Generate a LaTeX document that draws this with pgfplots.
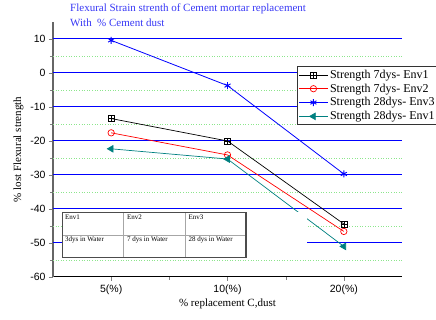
\documentclass[border=0pt]{standalone}
\usepackage{pgfplots}
\pgfplotsset{compat=1.18}
\usepackage{fontspec}
\setmainfont{Liberation Serif}
\newfontfamily\arial{Liberation Sans}
\definecolor{tealc}{RGB}{0,128,128}
\definecolor{titleblue}{RGB}{55,55,245}
\definecolor{gridgreen}{RGB}{140,230,140}
\definecolor{gridblue}{RGB}{0,0,255}
\pgfdeclareplotmark{boxplus}{%
  \pgfpathrectangle{\pgfpoint{-\pgfplotmarksize}{-\pgfplotmarksize}}{\pgfpoint{2\pgfplotmarksize}{2\pgfplotmarksize}}%
  \pgfpathmoveto{\pgfpoint{-\pgfplotmarksize}{0pt}}\pgfpathlineto{\pgfpoint{\pgfplotmarksize}{0pt}}%
  \pgfpathmoveto{\pgfpoint{0pt}{-\pgfplotmarksize}}\pgfpathlineto{\pgfpoint{0pt}{\pgfplotmarksize}}%
  \pgfusepathqstroke}
\begin{document}
\begin{tikzpicture}
\begin{axis}[
  scale only axis, width=349pt, height=255pt,
  xmin=0.5, xmax=3.5, ymin=-60, ymax=15,
  xtick={1,2,3}, xticklabels={5(\%),10(\%),20(\%)},
  minor xtick={1.5,2.5},
  ytick={-60,-50,...,10},
  minor ytick={-55,-45,...,5},
  axis x line*=bottom, axis y line*=left,
  axis line style={-},
  x axis line style={black, line width=1pt},
  y axis line style={black!60, line width=1.6pt},
  tick align=outside,
  major tick length=4pt, minor tick length=3pt,
  /pgf/number format/assume math mode=true,
  ticklabel style={font=\arial\fontsize{10.5}{12}\selectfont},
  xlabel={\% replacement C,dust},
  ylabel={\% lost Flexural strength},
  label style={font=\fontsize{11}{13}\selectfont},
  xlabel style={yshift=2pt},
  legend style={at={(0.699,0.827)}, anchor=north west, draw=black!80, line width=0.7pt,
    font=\fontsize{12}{14}\selectfont, row sep=0pt, inner sep=1.5pt, cells={anchor=west}},
  legend image code/.code={\draw[mark repeat=2,mark phase=2] plot coordinates {(0cm,0cm) (0.5cm,0cm) (1cm,0cm)};},
]
\pgfplotsinvokeforeach{-55,-45,-35,-25,-15,-5,5}{
  \draw[color=gridgreen, dotted, line width=0.6pt] (axis cs:0.5,#1) -- (axis cs:3.5,#1);
}
\pgfplotsinvokeforeach{-50,-40,-30,-20,-10,0,10}{
  \draw[color=gridblue, line width=1pt] (axis cs:0.5,#1) -- (axis cs:3.5,#1);
}
\addplot[black, line width=0.7pt, mark=boxplus, mark size=3pt, mark options={line width=0.6pt}] coordinates {(1,-13.4) (2,-20.0) (3,-44.4)};
\addlegendentry{Strength 7dys- Env1}
\addplot[red, line width=0.7pt, mark=o, mark size=3.2pt] coordinates {(1,-17.6) (2,-24.1) (3,-46.6)};
\addlegendentry{Strength 7dys- Env2}
\addplot[gridblue, line width=0.8pt, mark=asterisk, mark size=3.5pt, mark options={line width=0.9pt}] coordinates {(1,9.6) (2,-3.7) (3,-29.7)};
\addlegendentry{Strength 28dys- Env3}
\addplot[tealc, line width=0.7pt, mark=triangle*, mark size=3.8pt, mark options={rotate=90}] coordinates {(1,-22.3) (2,-25.3) (3,-51.0)};
\addlegendentry{Strength 28dys- Env1}
\end{axis}
\begin{scope}[x=1pt,y=1pt]
% white panel and table
\fill[white] (9.3,19.5) rectangle (254,64.5);
\draw[black!35, line width=0.7pt] (9.3,42) -- (193,42);
\draw[black!35, line width=0.7pt] (70.5,19.5) -- (70.5,64.5);
\draw[black!35, line width=0.7pt] (132,19.5) -- (132,64.5);
\draw[black!70, line width=1.1pt] (9.3,19.5) rectangle (193,64.5);
\begin{scope}[every node/.style={anchor=west, inner sep=0pt, font=\fontsize{7}{8}\selectfont}]
\node at (12,59.3) {Env1};
\node at (74,59.3) {Env2};
\node at (135.5,59.3) {Env3};
\node at (12,37) {3dys in Water};
\node at (74,37) {7 dys in Water};
\node at (135.5,37) {28 dys in Water};
\end{scope}
\node[anchor=north west, align=left, text=titleblue, inner sep=0pt,
  font=\fontsize{11}{15}\selectfont] at (17,273) {Flexural Strain strenth of Cement mortar replacement\\With~~\% Cement dust};
\pgfresetboundingbox
\path[use as bounding box] (-53,-43) rectangle (383,277);
\end{scope}
\end{tikzpicture}
\end{document}
